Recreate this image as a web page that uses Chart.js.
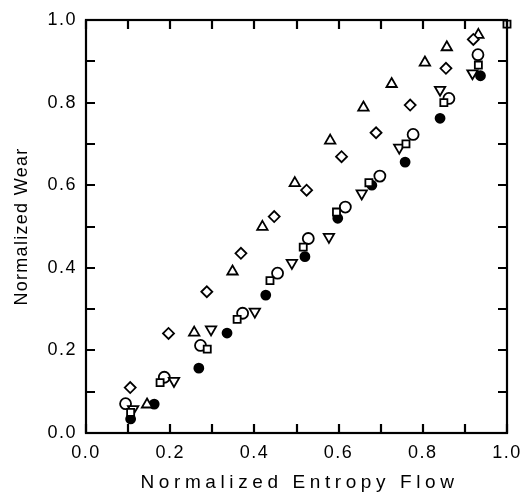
<!DOCTYPE html>
<html>
<head>
<meta charset="utf-8">
<script src="https://cdn.jsdelivr.net/npm/chart.js@4/dist/chart.umd.min.js"></script>
<style>
  html, body { margin: 0; padding: 0; background: #fff; }
</style>
</head>
<body>
<canvas id="chart" width="529" height="496"></canvas>
<script>
// tick labels (every other tick is labelled)
const xTickLabels = ['0.0', '0.2', '0.4', '0.6', '0.8', '1.0'];
const yTickLabels = ['0.0', '0.2', '0.4', '0.6', '0.8', '1.0'];
const xTitle = 'Normalized Entropy Flow';
const yTitle = 'Normalized Wear';

// open triangles (up)
const triX = [0.145, 0.257, 0.348, 0.419, 0.496, 0.580, 0.659, 0.726, 0.805, 0.857, 0.932];
const triY = [0.069, 0.243, 0.391, 0.499, 0.605, 0.708, 0.788, 0.845, 0.897, 0.934, 0.964];
// open diamonds
const diaX = [0.105, 0.196, 0.287, 0.368, 0.447, 0.524, 0.607, 0.689, 0.770, 0.855, 0.920];
const diaY = [0.110, 0.241, 0.342, 0.435, 0.524, 0.588, 0.669, 0.727, 0.794, 0.883, 0.953];
// open squares
const sqX = [0.106, 0.176, 0.288, 0.359, 0.437, 0.516, 0.595, 0.672, 0.760, 0.850, 0.932, 1.0];
const sqY = [0.050, 0.122, 0.203, 0.275, 0.369, 0.450, 0.535, 0.606, 0.700, 0.800, 0.891, 0.99];
// open circles
const circX = [0.094, 0.186, 0.272, 0.372, 0.455, 0.528, 0.616, 0.698, 0.777, 0.862, 0.931];
const circY = [0.071, 0.135, 0.212, 0.290, 0.387, 0.471, 0.547, 0.622, 0.723, 0.810, 0.916];
// open triangles (down)
const invX = [0.112, 0.209, 0.297, 0.401, 0.489, 0.577, 0.655, 0.744, 0.841, 0.918];
const invY = [0.058, 0.126, 0.251, 0.294, 0.412, 0.475, 0.580, 0.691, 0.831, 0.871];
// filled circles
const dotX = [0.106, 0.162, 0.268, 0.335, 0.427, 0.520, 0.598, 0.679, 0.758, 0.841, 0.937];
const dotY = [0.034, 0.070, 0.157, 0.242, 0.334, 0.427, 0.520, 0.600, 0.656, 0.762, 0.865];

function pts(xs, ys) {
  return xs.map((x, i) => ({ x: x, y: ys[i] }));
}

const FONT = "'Liberation Sans', Arial, Helvetica, sans-serif";

function marker(label, xs, ys, style, radius, fill, rotation) {
  return {
    label: label,
    data: pts(xs, ys),
    pointStyle: style,
    pointRadius: radius,
    pointRotation: rotation || 0,
    pointBorderWidth: 1.8,
    pointBorderColor: '#000',
    pointBackgroundColor: fill,
    showLine: false,
    clip: false
  };
}

// frame, inward ticks and axis titles
const frame = {
  id: 'frame',
  beforeDraw(chart) {
    chart.ctx.letterSpacing = '1.5px';
  },
  afterDatasetsDraw(chart) {
    const ctx = chart.ctx;
    const a = chart.chartArea;
    const xs = chart.scales.x, ys = chart.scales.y;
    ctx.save();
    ctx.strokeStyle = '#000';
    ctx.lineWidth = 2.2;
    ctx.strokeRect(a.left, a.top, a.right - a.left, a.bottom - a.top);
    const len = 9;
    ctx.beginPath();
    xs.ticks.forEach(t => {
      const p = Math.round(xs.getPixelForValue(t.value));
      ctx.moveTo(p, a.bottom); ctx.lineTo(p, a.bottom - len);
      ctx.moveTo(p, a.top); ctx.lineTo(p, a.top + len);
    });
    ys.ticks.forEach(t => {
      const p = Math.round(ys.getPixelForValue(t.value));
      ctx.moveTo(a.left, p); ctx.lineTo(a.left + len, p);
      ctx.moveTo(a.right, p); ctx.lineTo(a.right - len, p);
    });
    ctx.stroke();

    ctx.fillStyle = '#000';
    ctx.textAlign = 'center';
    ctx.textBaseline = 'middle';
    ctx.letterSpacing = '4.6px';
    ctx.font = '19px ' + FONT;
    ctx.fillText(xTitle, (a.left + a.right) / 2 + 3, 483);
    ctx.translate(22, (a.top + a.bottom) / 2);
    ctx.rotate(-Math.PI / 2);
    ctx.letterSpacing = '1.3px';
    ctx.font = '18px ' + FONT;
    ctx.fillText(yTitle, 0, 0);
    ctx.restore();
  }
};

new Chart(document.getElementById('chart'), {
  type: 'scatter',
  data: {
    datasets: [
      marker('squares', sqX, sqY, 'rect', 5, '#fff'),
      marker('down triangles', invX, invY, 'triangle', 6, '#fff', 180),
      marker('circles', circX, circY, 'circle', 5.5, '#fff'),
      marker('diamonds', diaX, diaY, 'rectRot', 5.5, '#fff'),
      marker('triangles', triX, triY, 'triangle', 6, '#fff'),
      marker('filled', dotX, dotY, 'circle', 4.5, '#000')
    ]
  },
  plugins: [frame],
  options: {
    responsive: false,
    animation: false,
    layout: { padding: 0 },
    plugins: { legend: { display: false }, tooltip: { enabled: false } },
    scales: {
      x: {
        type: 'linear', position: 'bottom', min: 0, max: 1,
        grid: { display: false, drawTicks: false },
        border: { display: false },
        ticks: {
          stepSize: 0.1, autoSkip: false, maxRotation: 0, padding: 9,
          color: '#000', font: { family: FONT, size: 18 },
          callback: (v, i) => (i % 2 === 0 ? xTickLabels[i / 2] : '')
        },
        afterFit: s => { s.height = 63; }
      },
      y: {
        type: 'linear', position: 'left', min: 0, max: 1,
        grid: { display: false, drawTicks: false },
        border: { display: false },
        ticks: {
          stepSize: 0.1, autoSkip: false, padding: 9,
          color: '#000', font: { family: FONT, size: 18 },
          callback: (v, i) => (i % 2 === 0 ? yTickLabels[i / 2] : '')
        },
        afterFit: s => { s.width = 86; }
      },
      x2: {
        type: 'linear', position: 'top', min: 0, max: 1,
        grid: { display: false, drawTicks: false },
        border: { display: false },
        ticks: { display: false },
        afterFit: s => { s.height = 20; }
      },
      y2: {
        type: 'linear', position: 'right', min: 0, max: 1,
        grid: { display: false, drawTicks: false },
        border: { display: false },
        ticks: { display: false },
        afterFit: s => { s.width = 22; }
      }
    }
  }
});
</script>
</body>
</html>
